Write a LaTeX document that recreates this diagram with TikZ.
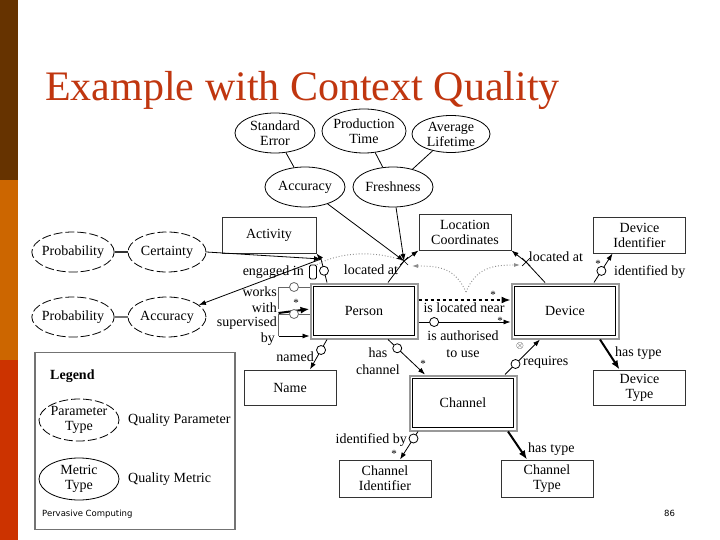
\documentclass[tikz,border=0pt]{standalone}
\usepackage{fontspec}
\setmainfont{Liberation Serif}
\newfontfamily\footfont{DejaVu Sans}
\usetikzlibrary{shapes.geometric,arrows.meta,calc}
\definecolor{barA}{HTML}{663300}
\definecolor{barB}{HTML}{CC6600}
\definecolor{barC}{HTML}{CC3300}
\definecolor{titlecol}{HTML}{C0360F}
\begin{document}
\begin{tikzpicture}[x=1pt,y=-1pt,
  tx/.style={font=\fontsize{14}{15}\selectfont, inner sep=0pt, align=center},
  box/.style={tx, draw=black!80, line width=1pt, minimum width=92pt, minimum height=35pt},
  ent/.style={tx, draw=black!40, line width=2pt, minimum width=107pt, minimum height=55pt},
  qell/.style={tx, ellipse, draw, line width=0.8pt, inner sep=-2pt},
  qpar/.style={qell, dash pattern=on 9pt off 3pt},
  ring/.style={circle, draw, fill=white, minimum size=9pt, inner sep=0pt, line width=0.8pt},
  arr/.style={-{Latex[length=7pt,width=5pt]}, line width=0.8pt},
  tarr/.style={-{Latex[length=9pt,width=7pt]}, line width=2pt},
  qdot/.style={black!45, dotted, line width=0.9pt},
  lbl/.style={tx},
  mult/.style={tx, font=\fontsize{11}{11}\selectfont}]
\useasboundingbox (0,0) rectangle (720,540);
\fill[white] (0,0) rectangle (720,540);
\fill[barA] (0,0) rectangle (18,180);
\fill[barB] (0,180) rectangle (18,360);
\fill[barC] (0,360) rectangle (18,540);

\node[anchor=base west, font=\fontsize{42}{42}\selectfont, text=titlecol, inner sep=0pt] (title) at (45,101) {Example with Context Quality};

% quality ellipses (top)
\node[qell, minimum width=80pt, minimum height=40pt] (stderr) at (275,133) {Standard\\Error};
\node[qell, minimum width=84pt, minimum height=44pt] (prodtime) at (364,131) {Production\\Time};
\node[qell, minimum width=78pt, minimum height=37pt] (avglife) at (451,134) {Average\\Lifetime};
\node[qell, minimum width=80pt, minimum height=40pt] (acc1) at (305,187) {Accuracy};
\node[qell, minimum width=80pt, minimum height=40pt] (fresh) at (393,187) {Freshness};

% quality ellipses (left)
\node[qpar, minimum width=76pt, minimum height=40pt] (prob1) at (73,252) {Probability};
\node[qpar, minimum width=78pt, minimum height=40pt] (cert) at (167,252) {Certainty};
\node[qpar, minimum width=76pt, minimum height=40pt] (prob2) at (73,317) {Probability};
\node[qpar, minimum width=78pt, minimum height=40pt] (acc2) at (167,317) {Accuracy};

% value boxes
\node[box, minimum width=94pt] (activity) at (269,235.5) {Activity};
\node[box] (loc) at (465,232.5) {Location\\Coordinates};
\node[box] (devid) at (639.5,235.5) {Device\\Identifier};
\node[box] (devtype) at (639.5,387.5) {Device\\Type};
\node[box] (name) at (290,387.5) {Name};
\node[box, minimum height=37pt] (chid) at (385,478.5) {Channel\\Identifier};
\node[box, minimum height=37pt] (chtype) at (547,478.5) {Channel\\Type};

% entity boxes
\node[ent] (person) at (364,311) {Person};
\node[ent] (device) at (565,311) {Device};
\node[ent] (channel) at (463,403) {Channel};
\foreach \e in {person,device,channel}
  \draw[black, line width=1.2pt] ([shift={(4,4)}]\e.north west) rectangle ([shift={(-4,-4)}]\e.south east);

% fact points
\coordinate (EA) at (321,259);
\coordinate (LA) at (404,261);
\coordinate (LB) at (526,262);

% quality links
\draw[line width=0.8pt] (stderr) -- (acc1);
\draw[line width=0.8pt] (prodtime) -- (fresh);
\draw[line width=0.8pt] (avglife) -- (fresh);
\draw[arr] (acc1) -- (LA);
\draw[arr] (fresh) -- (LA);
\draw[line width=2pt, black!80] (prob1) -- (cert);
\draw[line width=2pt, black!55] (prob2) -- (acc2);
\draw[arr] (cert.east) -- (EA);
\draw[arr] (EA) -- (acc2);

% engaged in
\draw[line width=0.8pt] ([xshift=-37pt]person.north) -- node[ring, pos=0.5] {} (EA);
\draw[arr] (EA) -- (activity.south east);
\node[draw, rounded corners=1.5pt, line width=0.8pt, minimum width=7pt, minimum height=14pt, inner sep=0pt] (alt) at (313,272) {};
\node[lbl, anchor=east] (lengaged) at (304,272) {engaged in};

% located at
\draw[line width=0.8pt] ([xshift=24pt]person.north) -- (LA);
\draw[arr] (LA) -- (loc.south west);
\draw[line width=0.8pt] ([xshift=-20pt]device.north) -- (LB);
\draw[arr] (LB) -- (loc.south east);
\foreach \p in {LA,LB}{
  \draw[line width=0.7pt] ($(\p)+(-4,-4)$) -- ($(\p)+(4,4)$) ($(\p)+(-4,4)$) -- ($(\p)+(4,-4)$);
}
\node[lbl] (llocA) at (371,270) {located at};
\node[lbl] (llocB) at (556,257) {located at};

% derived fact (dotted)
\coordinate (V) at (466,292);
\draw[qdot] (alt.north east) .. controls (340,252) and (375,250) .. (LA);
\draw[qdot, -{Latex[length=6pt,width=4pt]}] (V) .. controls (455,268) and (440,266) .. ($(LA)+(8,5)$);
\draw[qdot, -{Latex[length=6pt,width=4pt]}] (V) .. controls (476,268) and (492,265) .. ($(LB)+(-6,3)$);

% is located near
\draw[tarr, line width=1.6pt, dashed] ([yshift=11pt]person.east) -- ([yshift=11pt]device.west);
\node[mult] (star1) at (493,295) {*};
\node[lbl] (lnear) at (464,308) {is located near};

% is authorised to use
\draw[arr] ([yshift=-11pt]person.east) -- node[ring, pos=0.17] {} ([yshift=-11pt]device.west);
\node[mult] (star2) at (500,320.5) {*};
\node[lbl] (lauth) at (463,344) {is authorised\\[2pt]to use};

% has channel
\draw[arr] ([xshift=24pt]person.south) -- node[ring, pos=0.25] {} ([xshift=-38pt]channel.north);
\node[mult] (star3) at (423,364) {*};
\node[lbl] (lhas) at (378,361) {has\\[2pt]channel};

% requires
\draw[arr] ([xshift=42pt]channel.north) -- node[ring, pos=0.3] {} ([xshift=-25pt]device.south);
\node[lbl, font=\fontsize{10}{10}\selectfont] (otimes) at (520,346) {$\otimes$};
\node[lbl, anchor=west] (lreq) at (523,362) {requires};

% device identified by / has type
\draw[arr] ([xshift=29pt]device.north) -- node[ring, pos=0.4] {} ([xshift=-27pt]devid.south);
\node[mult] (star4) at (598,264) {*};
\node[lbl, anchor=west] (ldevid) at (614,272) {identified by};
\draw[tarr] ([xshift=35pt]device.south) -- ([xshift=-20pt]devtype.north);
\node[lbl, anchor=west] (ldevtype) at (615,353) {has type};

% named
\draw[arr] ([xshift=-37pt]person.south) -- node[ring, pos=0.35] {} ([xshift=20pt]name.north);
\node[lbl, anchor=east] (lnamed) at (314,357) {named};

% works with / supervised by
\draw[line width=0.8pt, black!60] ([yshift=24pt]person.west) -- node[ring] {} ++(-31,0) -- ++(0,22);
\draw[tarr] ([shift={(-31,2)}]person.west) -- ([yshift=2pt]person.west);
\node[mult] (star5) at (296,303) {*};
\draw[line width=0.8pt, black!60] ([yshift=-3pt]person.west) -- node[ring] {} ++(-31,0) -- ++(0,22);
\draw[arr] ([shift={(-31,25)}]person.west) -- ([yshift=-25pt]person.west);
\node[lbl, anchor=east] (lworks) at (277,292) {works};
\node[lbl, anchor=east] (lwith) at (277,308) {with};
\node[lbl, anchor=east] (lsup) at (277,323) {supervised};
\node[lbl, anchor=east] (lby) at (275,339) {by};

% channel identified by / has type
\draw[arr] ([xshift=-45pt]channel.south) -- node[ring, pos=0.25] {} ([xshift=15pt]chid.north);
\node[mult] (star6) at (394,454) {*};
\node[lbl, anchor=east] (lchid) at (407,440) {identified by};
\draw[tarr] ([xshift=45pt]channel.south) -- ([xshift=-20pt]chtype.north);
\node[lbl, anchor=west] (lchtype) at (528,449) {has type};

% legend
\node[draw=black!55, line width=1.2pt, minimum width=200pt, minimum height=177pt, inner sep=0pt] (legend) at (135,441) {};
\node[lbl, anchor=west, font=\fontsize{14}{15}\selectfont\bfseries] (legtitle) at (50,376) {Legend};
\node[qpar, minimum width=80pt, minimum height=42pt, inner sep=-1pt] (partype) at (79,420) {Parameter\\Type};
\node[lbl, anchor=west] (lqp) at (128,420) {Quality Parameter};
\node[qell, minimum width=80pt, minimum height=42pt, inner sep=-1pt] (mettype) at (79,479) {Metric\\Type};
\node[lbl, anchor=west] (lqm) at (128,479) {Quality Metric};

% footer
\node[anchor=base west, font=\footfont\fontsize{8.5}{9}\selectfont, inner sep=0pt] (foot) at (42,516) {Pervasive Computing};
\node[anchor=base west, font=\footfont\fontsize{8.5}{9}\selectfont, inner sep=0pt] (pageno) at (664,516) {86};
\end{tikzpicture}
\end{document}
